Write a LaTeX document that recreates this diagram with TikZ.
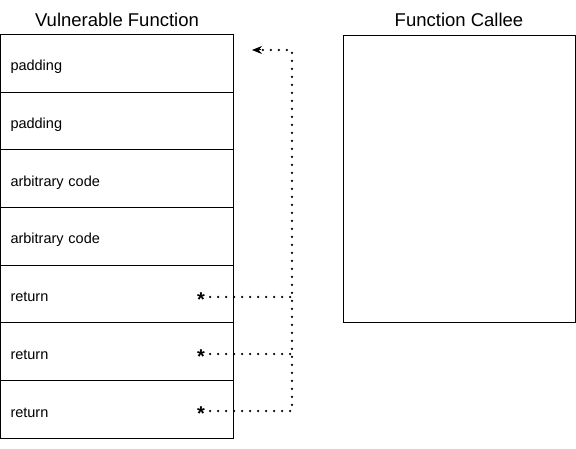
\documentclass[tikz,border=0pt]{standalone}
\usepackage{fontspec}
\setmainfont{Liberation Sans}
\usetikzlibrary{arrows.meta,positioning}

\tikzset{
    frame/.style={draw, line width=1pt, minimum width=233pt, minimum height=57.7pt,
        inner sep=0pt, outer sep=0pt, text width=213pt, align=left,
        text height=15pt, text depth=0pt, font=\fontsize{14.5}{16}\selectfont},
    caption/.style={font=\fontsize{18.5}{21}\selectfont, inner sep=0pt},
    star/.style={font=\fontsize{20}{22}\selectfont\bfseries, anchor=base, inner xsep=5pt, inner ysep=0pt,
        text height=19.2pt, text depth=0pt},
    link/.style={line width=2.5pt, dash pattern=on 0pt off 8pt, line cap=round}
}

\begin{document}
\begin{tikzpicture}[x=1pt,y=-1pt]
        \useasboundingbox (0,0) rectangle (576,449);
        % stack frame
        \node[frame, anchor=north west] (pad1) at (0.5,34.5) {padding};
        \node[frame, below=0pt of pad1] (pad2) {padding};
        \node[frame, below=0pt of pad2] (code1) {arbitrary code};
        \node[frame, below=0pt of code1] (code2) {arbitrary code};
        \node[frame, below=0pt of code2] (ret1) {return};
        \node[frame, below=0pt of ret1] (ret2) {return};
        \node[frame, below=0pt of ret2] (ret3) {return};
        \node[caption] (vuln) at (117,20) {Vulnerable Function};
        % callee
        \node[draw, line width=1pt, minimum width=232pt, minimum height=287pt, anchor=north west] (callee) at (343,35) {};
        \node[caption] (calleelabel) at (459,20) {Function Callee};
        % return addresses
        \node[star] (star1) at (201,306.6) {*};
        \node[star] (star2) at (201,363.6) {*};
        \node[star] (star3) at (201,420.6) {*};
        \coordinate (turn) at (292,50);
        \coordinate (tip) at (252,50);
        \draw[link] (star1.east) -- (star1.east -| turn);
        \draw[link] (star2.east) -- (star2.east -| turn);
        \draw[link] (star3.east) -| (turn) -- ([xshift=8pt]tip);
        \draw[-{Stealth[length=10pt,width=8pt]}, line width=1pt] ([xshift=9pt]tip) -- (tip);
    \end{tikzpicture}
\end{document}
